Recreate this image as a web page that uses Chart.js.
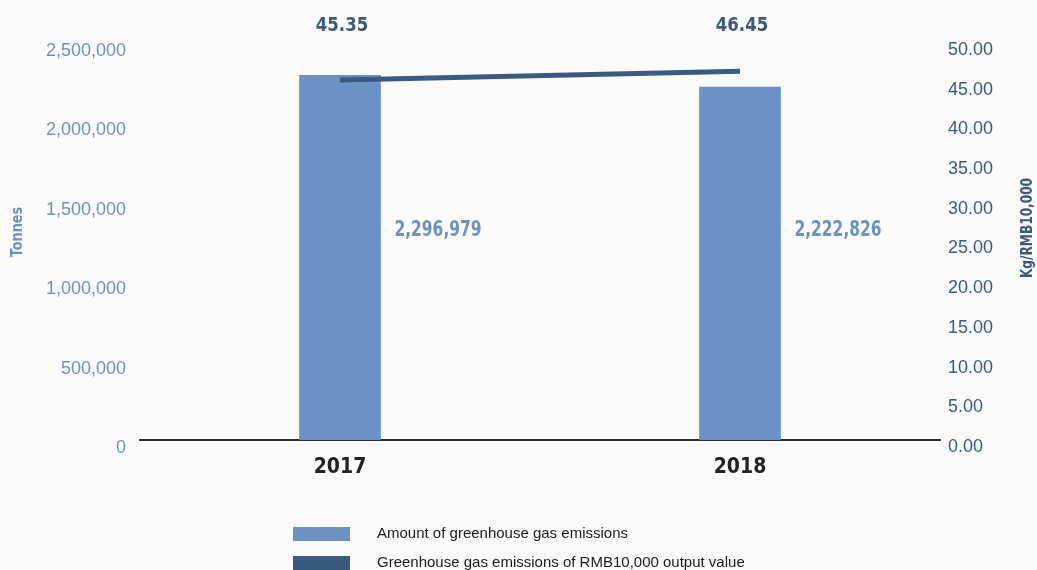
<!DOCTYPE html>
<html>
<head>
<meta charset="utf-8">
<script src="https://cdn.jsdelivr.net/npm/chart.js@4.4.1/dist/chart.umd.min.js"></script>
<style>
  html, body { margin: 0; padding: 0; background: #fafbfa; }
  #wrap { width: 1037px; height: 570px; }
</style>
</head>
<body>
<div id="wrap"><canvas id="c" width="1037" height="570"></canvas></div>
<script>
const categories = ['2017', '2018'];
const emissions = [2296979, 2222826];
const intensity = [45.35, 46.45];
const leftTicks = [0, 500000, 1000000, 1500000, 2000000, 2500000];
const rightTicks = [0, 5, 10, 15, 20, 25, 30, 35, 40, 45, 50];
const seriesNames = ['Amount of greenhouse gas emissions', 'Greenhouse gas emissions of RMB10,000 output value'];
const axisTitles = ['Tonnes', 'Kg/RMB10,000'];

const BAR = '#6a92c5';
const LINE = '#3a5a80';
const NARROW = "'DejaVu Sans Condensed', 'Liberation Sans Narrow', sans-serif";
const REG = "'Liberation Sans', Arial, sans-serif";

function narrowText(ctx, text, x, y, size, sx, color, rot) {
  ctx.save();
  ctx.font = 'bold ' + size + 'px ' + NARROW;
  ctx.fillStyle = color;
  ctx.textAlign = 'center';
  ctx.textBaseline = 'middle';
  ctx.translate(x, y);
  if (rot) ctx.rotate(rot);
  ctx.scale(sx, 1);
  ctx.fillText(text, 0, 0);
  ctx.restore();
}

const bgPlugin = {
  id: 'bg',
  beforeDraw(chart) {
    const ctx = chart.ctx;
    ctx.save();
    ctx.fillStyle = '#fafbfa';
    ctx.fillRect(0, 0, chart.width, chart.height);
    ctx.restore();
  }
};

const labelPlugin = {
  id: 'labels',
  afterDatasetsDraw(chart) {
    const ctx = chart.ctx;
    const area = chart.chartArea;
    // line value labels
    chart.getDatasetMeta(1).data.forEach((pt, i) => {
      narrowText(ctx, intensity[i].toFixed(2), pt.x + 2, area.top - 17, 20, 0.92, LINE);
    });
    // bar value labels
    chart.getDatasetMeta(0).data.forEach((bar, i) => {
      narrowText(ctx, emissions[i].toLocaleString('en-US'), bar.x + 98, (area.top + area.bottom) / 2 - 11, 21, 0.82, BAR);
    });
    // axis titles
    narrowText(ctx, axisTitles[0], 18, 232, 15, 0.95, BAR, -Math.PI / 2);
    narrowText(ctx, axisTitles[1], 1028, 228, 15, 0.9, LINE, -Math.PI / 2);
    // legend
    ctx.save();
    const colors = [BAR, LINE];
    ctx.font = '15px ' + REG;
    ctx.textAlign = 'left';
    ctx.textBaseline = 'middle';
    seriesNames.forEach((name, i) => {
      const y = 527 + i * 29;
      ctx.fillStyle = colors[i];
      ctx.fillRect(293, y, 57, 14);
      ctx.fillStyle = '#1a1a1a';
      ctx.fillText(name, 377, y + 7);
    });
    ctx.restore();
  }
};

new Chart(document.getElementById('c'), {
  data: {
    labels: categories,
    datasets: [
      {
        type: 'bar',
        label: seriesNames[0],
        data: emissions,
        backgroundColor: BAR,
        barThickness: 81,
        yAxisID: 'y',
        order: 2
      },
      {
        type: 'line',
        label: seriesNames[1],
        data: intensity,
        borderColor: LINE,
        borderWidth: 5,
        pointRadius: 0,
        fill: false,
        tension: 0,
        yAxisID: 'y1',
        order: 1
      }
    ]
  },
  options: {
    responsive: false,
    animation: false,
    layout: { padding: { top: 43, left: 0, right: 0, bottom: 0 } },
    plugins: { legend: { display: false }, tooltip: { enabled: false } },
    scales: {
      x: {
        grid: { display: false, drawTicks: false },
        border: { display: true, color: '#2b2b2b', width: 2 },
        ticks: { color: '#222', font: { family: NARROW, size: 21, weight: 'bold' }, padding: 15 },
        afterFit(s) { s.height = 130; }
      },
      y: {
        position: 'left',
        min: 0, max: 2500000,
        afterBuildTicks(s) { s.ticks = leftTicks.map(v => ({ value: v })); },
        grid: { display: false, drawTicks: false },
        border: { display: false },
        ticks: {
          color: BAR,
          font: { family: REG, size: 18 },
          padding: 14,
          labelOffset: 8,
          callback: v => v.toLocaleString('en-US')
        },
        afterFit(s) { s.width = 140; }
      },
      y1: {
        position: 'right',
        min: 0, max: 50,
        afterBuildTicks(s) { s.ticks = rightTicks.map(v => ({ value: v })); },
        grid: { display: false, drawTicks: false },
        border: { display: false },
        ticks: {
          color: LINE,
          font: { family: REG, size: 18 },
          padding: 8,
          labelOffset: 7,
          callback: v => Number(v).toFixed(2)
        },
        afterFit(s) { s.width = 97; }
      }
    }
  },
  plugins: [bgPlugin, labelPlugin]
});
</script>
</body>
</html>
